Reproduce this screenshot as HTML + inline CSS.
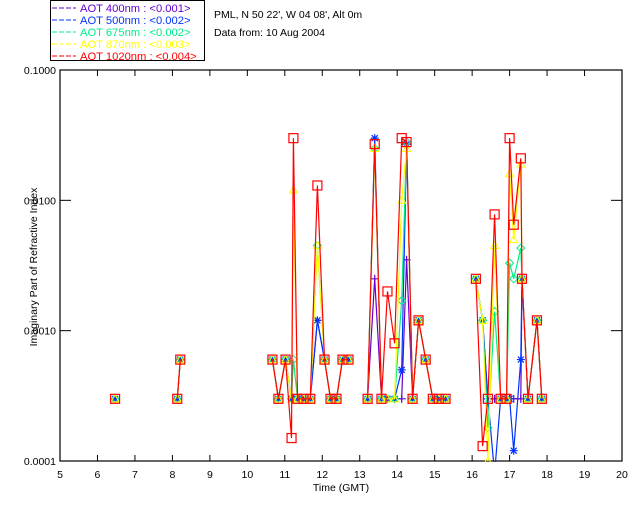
<!DOCTYPE html>
<html><head><meta charset="utf-8"><style>
body{margin:0;background:#fff;}
svg text{font-family:"Liberation Sans",sans-serif;font-size:10.5px;}
#leg text{font-size:11.2px;}
</style></head><body>
<svg id="c" width="640" height="512" xmlns="http://www.w3.org/2000/svg">
<rect width="640" height="512" fill="#fff"/>
<g>
<rect x="50.5" y="0.5" width="154" height="60" fill="#fff" stroke="#000"/>
<g id="leg"></g>
</g>
<text x="214" y="18" fill="#000">PML, N 50 22', W 04 08', Alt 0m</text>
<text x="214" y="36" fill="#000">Data from: 10 Aug 2004</text>
<g id="axes"></g>
<g id="plot" clip-path="url(#cl)"></g>
<defs><clipPath id="cl"><rect x="60" y="69" width="563" height="393"/></clipPath></defs>
<text x="341" y="491" text-anchor="middle">Time (GMT)</text>
<text transform="translate(37,267) rotate(-90)" text-anchor="middle">Imaginary Part of Refractive Index</text>
</svg>
<script>
const seriesNames=["AOT  400nm : <0.001>","AOT  500nm : <0.002>","AOT  675nm : <0.002>","AOT  870nm : <0.003>","AOT 1020nm : <0.004>"];
const seriesColors=["#6600cc","#0033ff","#00ee88","#ffff00","#ff0000"];
const times=[6.47,8.13,8.21,10.67,10.83,11.02,11.18,11.23,11.34,11.5,11.68,11.87,12.06,12.22,12.38,12.54,12.70,13.21,13.40,13.58,13.74,13.93,14.12,14.25,14.41,14.57,14.76,14.95,15.11,15.29,16.10,16.28,16.42,16.6,16.76,16.92,17.0,17.11,17.30,17.33,17.49,17.73,17.86];
const v1020=[0.0003,0.0003,0.0006,0.0006,0.0003,0.0006,0.00015,0.03,0.0003,0.0003,0.0003,0.013,0.0006,0.0003,0.0003,0.0006,0.0006,0.0003,0.027,0.0003,0.002,0.0008,0.03,0.028,0.0003,0.0012,0.0006,0.0003,0.0003,0.0003,0.0025,0.00013,0.0003,0.0078,0.0003,0.0003,0.03,0.0065,0.021,0.0025,0.0003,0.0012,0.0003];
const v870=[0.0003,0.0003,0.0006,0.0006,0.0003,0.0006,0.0003,0.012,0.0003,0.0003,0.0003,0.0045,0.0006,0.0003,0.0003,0.0006,0.0006,0.0003,0.025,0.0003,0.0003,0.0003,0.01,0.025,0.0003,0.0012,0.0006,0.0003,0.0003,0.0003,0.0025,0.0012,0.0001,0.0045,0.0003,0.0003,0.016,0.005,0.019,0.0025,0.0003,0.0012,0.0003];
const v675=[0.0003,0.0003,0.0006,0.0006,0.0003,0.0006,0.0003,0.0006,0.0003,0.0003,0.0003,0.0045,0.0006,0.0003,0.0003,0.0006,0.0006,0.0003,0.025,0.0003,0.0003,0.0003,0.0017,0.028,0.0003,0.0012,0.0006,0.0003,0.0003,0.0003,0.0025,0.0012,0.00018,0.0014,0.0003,0.0003,0.0033,0.0025,0.0043,0.0025,0.0003,0.0012,0.0003];
const v500=[0.0003,0.0003,0.0006,0.0006,0.0003,0.0006,0.0003,0.0003,0.0003,0.0003,0.0003,0.0012,0.0006,0.0003,0.0003,0.0006,0.0006,0.0003,0.03,0.0003,0.0003,0.0003,0.0005,0.027,0.0003,0.0012,0.0006,0.0003,0.0003,0.0003,0.0025,0.0012,0.0003,0.00008,0.0003,0.0003,0.0003,0.00012,0.0006,0.0025,0.0003,0.0012,0.0003];
const v400=[0.0003,0.0003,0.0006,0.0006,0.0003,0.0006,0.0003,0.0003,0.0003,0.0003,0.0003,0.0012,0.0006,0.0003,0.0003,0.0006,0.0006,0.0003,0.0025,0.0003,0.0003,0.0003,0.0003,0.0035,0.0003,0.0012,0.0006,0.0003,0.0003,0.0003,0.0025,0.0012,0.0003,0.0003,0.0003,0.0003,0.0003,0.0003,0.0003,0.0025,0.0003,0.0012,0.0003];
const seriesValues=[v400,v500,v675,v870,v1020];
const xTicks=[5,6,7,8,9,10,11,12,13,14,15,16,17,18,19,20];
const yTicks=[0.0001,0.001,0.01,0.1];
const yTickLabels=["0.0001","0.0010","0.0100","0.1000"];

const NS="http://www.w3.org/2000/svg";
const X0=60,X1=622,Y0=461,Y1=70;
const xs=t=>X0+(t-5)/15*(X1-X0);
const ys=v=>Y0-(Math.log10(v)+4)/3*(Y0-Y1);
function mk(tag,at,parent){const e=document.createElementNS(NS,tag);for(const k in at)e.setAttribute(k,at[k]);parent.appendChild(e);return e;}
const axes=document.getElementById('axes'),plot=document.getElementById('plot'),leg=document.getElementById('leg');
let fr=mk('rect',{x:X0,y:Y1,width:X1-X0,height:Y0-Y1,fill:'none',stroke:'#000','stroke-width':1.2},axes);


xTicks.forEach(t=>{const x=xs(t);
 mk('line',{x1:x,x2:x,y1:Y0,y2:Y0-6,stroke:'#000'},axes);
 mk('line',{x1:x,x2:x,y1:Y1,y2:Y1+6,stroke:'#000'},axes);
 const tx=mk('text',{x:x,y:478,'text-anchor':'middle'},axes);tx.textContent=t;
 
 
});
yTicks.forEach((v,i)=>{const y=ys(v);
 mk('line',{x1:X0,x2:X0+11,y1:y,y2:y,stroke:'#000'},axes);
 mk('line',{x1:X1,x2:X1-11,y1:y,y2:y,stroke:'#000'},axes);
 const tx=mk('text',{x:56,y:y+4,'text-anchor':'end'},axes);tx.textContent=yTickLabels[i];
 
 
});
function marker(k,x,y,c,g){
 if(k==0){mk('path',{d:`M${x-4},${y}h8M${x},${y-4}v8`,stroke:c,fill:'none','stroke-width':1.2},g);}
 else if(k==1){mk('path',{d:`M${x-4},${y}h8M${x},${y-4}v8M${x-3},${y-3}l6,6M${x+3},${y-3}l-6,6`,stroke:c,fill:'none','stroke-width':1.2},g);}
 else if(k==2){mk('path',{d:`M${x},${y-4}l4,4l-4,4l-4,-4z`,stroke:c,fill:'none'},g);}
 else if(k==3){mk('path',{d:`M${x},${y-4}l4,7h-8z`,stroke:c,fill:'none'},g);}
 else mk('rect',{x:x-4.5,y:y-4.5,width:9,height:9,stroke:c,fill:'none','stroke-width':1.2},g);
}
seriesValues.forEach((vals,k)=>{
 const g=mk('g',{},plot);
 
 
 let d='';
 times.forEach((t,i)=>{const brk=i==0||t-times[i-1]>0.4;d+=(brk?'M':'L')+xs(t).toFixed(1)+','+ys(vals[i]).toFixed(1);});
 mk('path',{d:d,stroke:seriesColors[k],fill:'none','stroke-width':1.2},g);
 times.forEach((t,i)=>marker(k,xs(t),ys(vals[i]),seriesColors[k],g));
 const ly=8+k*12;
 mk('line',{x1:52,x2:76,y1:ly,y2:ly,stroke:seriesColors[k],'stroke-dasharray':'5,2'},leg);
 const lt=mk('text',{x:80,y:ly+4,fill:seriesColors[k],'xml:space':'preserve'},leg);lt.textContent=seriesNames[k];
 
 
});
</script>
</body></html>
